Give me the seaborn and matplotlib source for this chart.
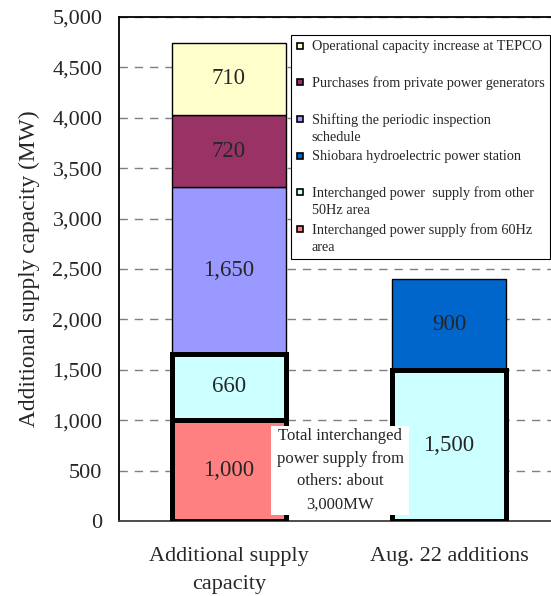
import matplotlib
matplotlib.use("Agg")
import matplotlib.pyplot as plt
from matplotlib.patches import Rectangle
from matplotlib.lines import Line2D
import numpy as np
import pandas as pd
import seaborn as sns

# ---- data -------------------------------------------------------------
categories = ["Additional supply\ncapacity", "Aug. 22 additions"]

# stacked segments, bottom to top
segments = [
    "Interchanged power supply from 60Hz\narea",
    "Interchanged power  supply from other\n50Hz area",
    "Shiobara hydroelectric power station",
    "Shifting the periodic inspection\nschedule",
    "Purchases from private power generators",
    "Operational capacity increase at TEPCO",
]
values_additional = [1000, 660, 0, 1650, 720, 710]
values_aug22 = [0, 1500, 900, 0, 0, 0]

colors = ["#FF8080", "#CCFFFF", "#0066CC", "#9999FF", "#993366", "#FFFFCC"]
thick = [True, True, False, False, False, False]

# legend order (top to bottom)
legend_order = [5, 4, 3, 2, 1, 0]

y_ticks = list(range(0, 5001, 500))
note_text = "Total interchanged\npower supply from\nothers: about\n3,000MW"

# ---- style ------------------------------------------------------------
sns.set_style("white")
plt.rcParams["font.family"] = ["Liberation Serif", "DejaVu Serif"]

fig = plt.figure(figsize=(5.51, 5.96), dpi=100)
ax = fig.add_axes([119 / 551, 1 - 521 / 596, 440 / 551, 504 / 596])

df = pd.DataFrame(
    {"category": np.repeat(categories, len(segments)),
     "segment": segments * 2,
     "value": values_additional + values_aug22}
)

bottom = np.zeros(len(categories))
for i, seg in enumerate(segments):
    sub = df[df["segment"] == seg].set_index("category").loc[categories].reset_index()
    vals = sub["value"].to_numpy(dtype=float)
    mask = vals > 0
    plot_df = sub[mask]
    sns.barplot(
        data=plot_df, x="category", y="value", order=categories,
        bottom=bottom[mask], color=colors[i], saturation=1, width=0.52,
        edgecolor="black", linewidth=3.6 if thick[i] else 1.0,
        errorbar=None, zorder=3 if thick[i] else 2, ax=ax,
    )
    cont = ax.containers[-1]
    ax.bar_label(cont, labels=[f"{v:,.0f}" for v in plot_df["value"]],
                 label_type="center", fontsize=16.5, zorder=6)
    bottom = bottom + vals

# note box sitting between the two bars
ax.add_patch(Rectangle((0.19, 60), 0.63, 882, facecolor="white",
                       edgecolor="none", zorder=4))
ax.text(0.505, 506, note_text, ha="center", va="center", fontsize=12,
        linespacing=1.57, zorder=5)

# ---- axes -------------------------------------------------------------
ax.set_xlim(-0.5, 1.5)
ax.set_ylim(0, 5000)
ax.set_yticks(y_ticks)
ax.set_yticklabels([f"{t:,}" for t in y_ticks], fontsize=16)
ax.tick_params(axis="y", length=0, pad=12)
ax.set_xticks([0, 1])
ax.set_xticklabels(categories, fontsize=16, linespacing=1.63)
ax.set_xticks([0.5], minor=True)
ax.tick_params(axis="x", which="major", length=0, pad=19)
ax.tick_params(axis="x", which="minor", length=4, width=1, color="#404040",
               direction="out")
ax.set_xlabel("")
ax.set_ylabel("Additional supply capacity (MW)", fontsize=16.8, labelpad=9)

ax.yaxis.grid(True, color="#7f7f7f", linestyle=(0, (6, 5)), linewidth=1.0,
              zorder=0)
ax.set_axisbelow(True)
for s in ["left", "top"]:
    ax.spines[s].set_color("black")
    ax.spines[s].set_linewidth(1.3)
ax.spines["bottom"].set_color("#404040")
ax.spines["bottom"].set_linewidth(1.3)
ax.spines["right"].set_visible(False)

# ---- legend -----------------------------------------------------------
leg_labels = []
for i in legend_order:
    lab = segments[i]
    if "\n" not in lab:
        lab = lab + "\n "
    leg_labels.append(lab)
leg_handles = [
    Line2D([], [], marker="s", linestyle="none", markersize=5,
           markerfacecolor=colors[i], markeredgecolor="black",
           markeredgewidth=1.2)
    for i in legend_order
]
leg = ax.legend(
    leg_handles, leg_labels, loc="upper left",
    bbox_to_anchor=(291 / 551, 1 - 35 / 596), bbox_transform=fig.transFigure,
    fontsize=10.3, frameon=True, fancybox=False, edgecolor="black",
    framealpha=1, handlelength=0.6, handleheight=1.0, handletextpad=0.5,
    borderpad=0.35, labelspacing=0.47, borderaxespad=0,
)
leg.get_frame().set_linewidth(0.8)
leg.set_zorder(7)
for t in leg.get_texts():
    t.set_linespacing(1.35)
# keep each marker level with the first line of its label
for column in leg._legend_handle_box.get_children():
    for row in column.get_children():
        row.align = "top"

fig.savefig("out.png", dpi=100)
